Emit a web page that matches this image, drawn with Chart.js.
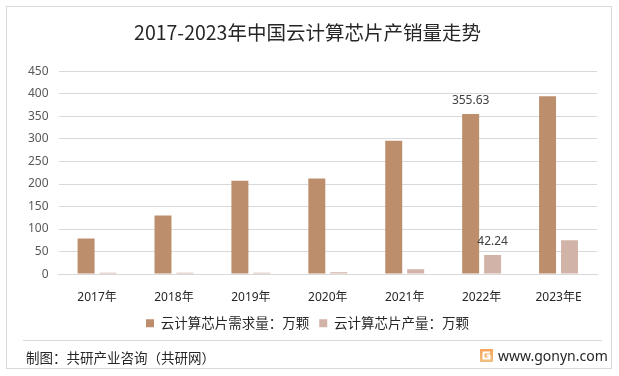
<!DOCTYPE html>
<html>
<head>
<meta charset="utf-8">
<script src="https://cdn.jsdelivr.net/npm/chart.js@4.4.0/dist/chart.umd.min.js"></script>
<style>
html, body { margin: 0; padding: 0; background: #fff; }
#wrap { width: 619px; height: 376px; }
</style>
</head>
<body>
<div id="wrap"><canvas id="chart" width="619" height="376"></canvas></div>
<script>
// chart data
var years = ['2017年', '2018年', '2019年', '2020年', '2021年', '2022年', '2023年E'];
var demand = [79, 130, 207, 212, 296, 355.63, 395];
var output = [3, 3, 3, 4, 11, 42.24, 75];
var seriesNames = ['云计算芯片需求量：万颗', '云计算芯片产量：万颗'];
var labelIndex = 5; // only 2022 values are labelled

var FONT = "'Noto Sans', 'Noto Sans CJK SC', sans-serif";
var CJK = "'Noto Sans CJK SC', sans-serif";

var frame = {
    id: 'frame',
    beforeDraw: function(chart){
        var ctx = chart.ctx;
        ctx.save();
        ctx.fillStyle = '#fff';
        ctx.fillRect(0, 0, chart.width, chart.height);
        ctx.strokeStyle = '#d9d9d9';
        ctx.lineWidth = 1;
        ctx.strokeRect(6.5, 6.5, 605, 362);
        ctx.restore();
    },
    afterDraw: function(chart){
        var ctx = chart.ctx;
        ctx.save();
        // separator
        ctx.strokeStyle = '#d9d9d9';
        ctx.beginPath();
        ctx.moveTo(23, 340.5);
        ctx.lineTo(602, 340.5);
        ctx.stroke();
        // source text
        ctx.fillStyle = '#262626';
        ctx.textBaseline = 'middle';
        ctx.font = '13.5px ' + CJK;
        ctx.fillText('制图：共研产业咨询（共研网）', 26, 358);
        ctx.font = '14px ' + FONT;
        ctx.fillText('www.gonyn.com', 498, 357);
        // logo
        var g = ctx.createLinearGradient(480, 349, 480, 362);
        g.addColorStop(0, '#f7a25a');
        g.addColorStop(1, '#f0c080');
        ctx.fillStyle = g;
        ctx.fillRect(480, 349, 13, 13);
        ctx.strokeStyle = '#fff';
        ctx.lineWidth = 2;
        ctx.beginPath();
        ctx.moveTo(490, 352.5);
        ctx.lineTo(483.5, 352.5);
        ctx.lineTo(483.5, 358.5);
        ctx.lineTo(489.5, 358.5);
        ctx.lineTo(489.5, 355.5);
        ctx.lineTo(486.5, 355.5);
        ctx.stroke();
        ctx.restore();
    }
};

var valueLabels = {
    id: 'valueLabels',
    afterDatasetsDraw: function(chart){
        var ctx = chart.ctx;
        ctx.save();
        ctx.fillStyle = '#404040';
        ctx.font = '12px ' + FONT;
        ctx.textAlign = 'center';
        ctx.textBaseline = 'middle';
        chart.data.datasets.forEach(function(ds, i){
            var bar = chart.getDatasetMeta(i).data[labelIndex];
            ctx.fillText(String(ds.data[labelIndex]), bar.x, bar.y - 13);
        });
        ctx.restore();
    }
};

var ctx = document.getElementById('chart').getContext('2d');
var chartObj = new Chart(ctx, {
    type: 'bar',
    data: {
        labels: years,
        datasets: [
            {label: seriesNames[0], data: demand, backgroundColor: '#bc8e6c'},
            {label: seriesNames[1], data: output, backgroundColor: '#d2b3a8'}
        ]
    },
    options: {
        responsive: false,
        animation: false,
        devicePixelRatio: 1,
        datasets: {bar: {barPercentage: 0.773, categoryPercentage: 0.571}},
        layout: {padding: {left: 18, right: 22, top: 12, bottom: 36}},
        plugins: {
            title: {
                display: true,
                text: '2017-2023年中国云计算芯片产销量走势',
                color: '#262626',
                font: {family: CJK, size: 19.5, weight: 'normal'},
                padding: {top: 9, bottom: 27}
            },
            legend: {
                position: 'bottom',
                labels: {
                    boxWidth: 8, boxHeight: 8,
                    color: '#262626',
                    font: {family: CJK, size: 13.5},
                    padding: 10
                }
            },
            tooltip: {enabled: false}
        },
        scales: {
            x: {
                grid: {display: false},
                border: {color: '#d9d9d9'},
                ticks: {color: '#262626', font: {family: FONT, size: 12}, padding: 8, maxRotation: 0},
                afterFit: function(scale){ scale.height -= 6; }
            },
            y: {
                min: 0, max: 450,
                grid: {color: '#d9d9d9', drawTicks: false},
                border: {display: false},
                ticks: {stepSize: 50, color: '#595959', font: {family: FONT, size: 12}, padding: 10}
            }
        }
    },
    plugins: [frame, valueLabels]
});
</script>
</body>
</html>
